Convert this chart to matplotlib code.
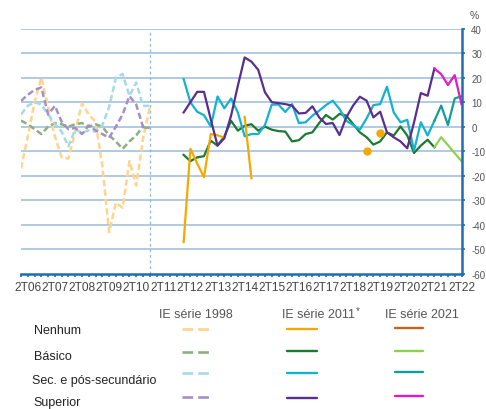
import numpy as np
import matplotlib
matplotlib.use("Agg")
import matplotlib.pyplot as plt
from matplotlib.lines import Line2D

plt.rcParams['font.family'] = ['Liberation Sans', 'DejaVu Sans']
plt.rcParams['lines.scale_dashes'] = False

nan = np.nan
# quarter index 0 = 1T06 ... 65 = 2T22
tick_labels = ["2T06", "2T07", "2T08", "2T09", "2T10", "2T11", "2T12", "2T13", "2T14",
               "2T15", "2T16", "2T17", "2T18", "2T19", "2T20", "2T21", "2T22"]
n_quarters = 66

# IE série 1998 (1T06 .. 4T10)
start98 = 0
nenhum98 = [-17, -4, 10, 20, 8, -4, -12.5, -13, -2, 9.5, 5, 2, -16, -43, -31, -33, -14, -24, -5, 8]
basico98 = [2.5, 1, -1, -3, 0, 1.5, 1, 0, 1, 1.5, 0, 1, 0, -3.5, -6, -9, -6, -3.5, 0, -1]
sec98 = [5, 8.5, 10, 9, 5, 1, -2, -8, -1, -2.5, -1.5, -2, 0.5, 8, 20, 21.5, 12.5, 18, 8.5, 8.5]
sup98 = [10.5, 13, 15, 16, 5, 8.5, 2, -1, -0.5, -3, 0.5, -1.5, -3, -4.5, 0, 5, 12.5, 9, 0, -0.5]

# IE série 2011 (1T12 .. 2T21)
start11 = 24
nenhum11 = [-47, -9, -15, -20.6, -3, -3.5, -4.5, nan, nan, 4, -21,
            nan, nan, nan, nan, nan, nan, nan, nan, nan, nan, nan, nan, nan, nan, nan, nan,
            -10, nan, -2.5, nan, nan, nan, nan, nan, nan, nan, nan]
basico11 = [-11.5, -14, -12.5, -12, -5.7, -7.7, -4, 2.4, -1.6, 0.4, 1, -1.6, 0, -1.2, -1.8, -2,
            -6, -5.5, -3, -2.3, 1.5, 4.8, 2.9, 5.2, 4.5, 1.1, -2.3, -4.3, -7.3, -6, -2.3, -3.6,
            0.1, -3.6, -10.7, -7.7, -5.3, -8.4]
sec11 = [19.4, 9.9, 6.1, 4.7, 0.1, 12.3, 7.5, 11.5, 5.8, -3.9, -3, -3, 0.7, 9, 9, 6, 9.2, 1.5,
         1.8, 4.5, 6.5, 8.8, 10.6, 7.2, 2.4, 0.7, -1.2, 3.4, 8.8, 9.2, 16.3, 5.8, 1.8, 2.8,
         -9.7, 1.8, -3.6, 2.4]
sup11 = [5.8, 10, 14.2, 14.2, 3, -7.7, -4.7, 4.5, 16.7, 28.2, 26.5, 23.2, 14, 10, 9.6, 9.2, 8.6,
         5.4, 5.6, 8.3, 3.8, 1.1, 1.5, -3.4, 3.8, 8.6, 12.2, 10.6, 3.8, 6.1, -2.3, -4.3, -6,
         -8.8, 1.8, 13.7, 12.6, 23.7]

# IE série 2021 (2T21 .. 2T22)
start21 = 61
nenhum21 = [nan, nan, nan, nan, nan]
basico21 = [-8.4, -4.3, -7.5, -10.8, -14]
sec21 = [2.4, 8.6, 0.7, 11.5, 12.4]
sup21 = [23.7, 21.4, 17, 21, 9.2]

row_labels = ["Nenhum", "Básico", "Sec. e pós-secundário", "Superior"]
col_labels = ["IE série 1998", "IE série 2011", "IE série 2021"]

c98 = ["#ffd48c", "#8db07d", "#a6dae7", "#a48fc9"]
c11 = ["#f6a800", "#1c7a30", "#14b2d1", "#5a2e8e"]
c21 = ["#c8621e", "#8fd14f", "#149d9a", "#e01bc9"]

W, H = 486, 410
fig = plt.figure(figsize=(W / 100, H / 100), dpi=100)

def fx(px):
    return px / W

def fy(py):
    return 1 - py / H

ax = fig.add_axes([fx(21), fy(275), fx(461.5) - fx(21), fy(29.5) - fy(275)])
ax.set_xlim(0, n_quarters - 1)
ax.set_ylim(-60, 40)

blue = "#1f6db0"
grid_c = "#a9c6e0"
for v in range(-50, 41, 10):
    ax.axhline(v, color=grid_c, lw=1.3, zorder=1)
ax.plot([19, 19], [-60, 38.6], color="#8fb8dc", lw=0.9, ls=(0, (2, 2)), zorder=1.5)

def xs(start, vals):
    return np.arange(start, start + len(vals))

dash98 = (0, (4.5, 2.3))
for vals, col in zip([nenhum98, basico98, sec98, sup98], c98):
    ax.plot(xs(start98, vals), vals, color=col, lw=1.8, ls=dash98, dash_capstyle='butt', zorder=2)

lw11 = 1.6
order = [1, 2, 0, 3]
series11 = [nenhum11, basico11, sec11, sup11]
for k in order:
    vals = np.array(series11[k], dtype=float)
    x = xs(start11, vals)
    ax.plot(x, vals, color=c11[k], lw=lw11, zorder=3, solid_joinstyle='round')
    # isolated points shown as dots
    iso = []
    for j in range(len(vals)):
        if np.isnan(vals[j]):
            continue
        left = np.isnan(vals[j - 1]) if j > 0 else True
        right = np.isnan(vals[j + 1]) if j < len(vals) - 1 else True
        if left and right:
            iso.append(j)
    if iso:
        ax.plot(x[iso], vals[iso], ls='none', marker='o', ms=5, color=c11[k], zorder=3)

for vals, col in zip([nenhum21, basico21, sec21, sup21], c21):
    ax.plot(xs(start21, vals), vals, color=col, lw=lw11, zorder=4)

for s in ["top", "left"]:
    ax.spines[s].set_visible(False)
for s in ["right", "bottom"]:
    ax.spines[s].set_color(blue)
    ax.spines[s].set_linewidth(1.8)
    ax.spines[s].set_zorder(5)

ax.yaxis.tick_right()
ax.set_yticks(range(-60, 41, 10))
ax.set_yticklabels([str(v) for v in range(-60, 41, 10)])
ax.tick_params(axis='y', which='major', length=2.5, width=1.2, color=blue, pad=4.5,
               labelsize=7, labelcolor="#555555")

ax.set_xticks(range(1, n_quarters, 4))
ax.set_xticklabels(tick_labels)
ax.set_xticks(range(0, n_quarters), minor=True)
ax.tick_params(axis='x', which='both', length=2, width=1.2, color=blue, pad=3,
               labelsize=8.6, labelcolor="#444444")

fig.text(fx(474), fy(16), "%", fontsize=7.5, color="#555555", ha='center', va='center')

# legend grid
hdr_x = [196, 318, 422]
hdr_y = 315.5
for cx, lab in zip(hdr_x, col_labels):
    fig.text(fx(cx), fy(hdr_y), lab, fontsize=9, color="#555555", ha='center', va='center')
fig.text(fx(357.5), fy(311), "*", fontsize=7, color="#555555", ha='center', va='center')

row_x = [34, 34, 32, 33.5]
row_y = [331, 357, 381.5, 403]
for rx, ry, lab in zip(row_x, row_y, row_labels):
    fig.text(fx(rx), fy(ry), lab, fontsize=9, color="#222222", ha='left', va='center')

y98 = [330, 353.3, 374, 397.7]
y11 = [329.7, 351.7, 374, 398.7]
y21 = [329, 352.3, 373.3, 396.7]
for k in range(4):
    fig.add_artist(Line2D([fx(182), fx(208.5)], [fy(y98[k])] * 2, color=c98[k], lw=1.9,
                          ls=(0, (7.7, 3.6)), dash_capstyle='butt'))
    fig.add_artist(Line2D([fx(287), fx(317)], [fy(y11[k])] * 2, color=c11[k], lw=1.7,
                          solid_capstyle='round'))
    fig.add_artist(Line2D([fx(394.5), fx(423)], [fy(y21[k])] * 2, color=c21[k], lw=1.7,
                          solid_capstyle='round'))

fig.savefig("out.png", dpi=100)
